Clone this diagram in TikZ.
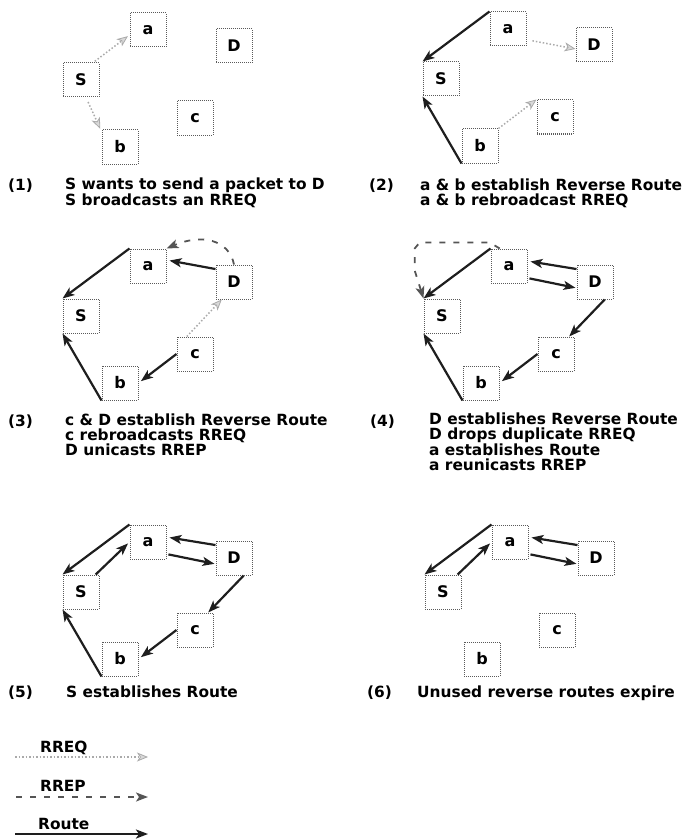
\documentclass[tikz,border=0pt]{standalone}
\usepackage{fontspec}
\setmainfont{DejaVu Sans}
\usetikzlibrary{arrows.meta, positioning}
\usepackage{xcolor}
\definecolor{routegray}{RGB}{30,30,30}
\definecolor{rrepgray}{RGB}{85,85,85}
\definecolor{rreqgray}{RGB}{170,170,170}
\definecolor{boxgray}{RGB}{90,90,90}

\begin{document}
\begin{tikzpicture}[
    x=1pt, y=-1pt,
    font=\fontsize{15.4}{14.6}\selectfont\bfseries,
    host/.style={rectangle, draw=boxgray, densely dotted, line width=1pt, fill=white, minimum width=36pt, minimum height=34pt, inner sep=0pt, font=\fontsize{16}{16}\selectfont\bfseries},
    route/.style={draw=routegray, line width=2.2pt, -{Stealth[length=12pt,width=9pt,inset=3pt]}},
    rreq/.style={draw=rreqgray, dotted, line width=1.5pt, -{Stealth[length=11pt,width=9pt,inset=3pt,fill=rreqgray!45,line width=0.8pt]}},
    rrep/.style={draw=rrepgray, dash pattern=on 6pt off 8pt, line width=1.8pt, -{Stealth[length=12pt,width=9pt,inset=3pt]}},
    capt/.style={anchor=base west, inner sep=0pt, align=left},
]
    \useasboundingbox (0,0) rectangle (694,840);

    % Hosts of the six snapshots
    \foreach \p/\dx/\dy in {1/0/0, 2/360/-1, 3/0/236, 4/361/236, 5/0/512, 6/362/512} {
        \node[host] (a\p) at (\dx+148,\dy+30) {a};
        \node[host] (D\p) at (\dx+234,\dy+46) {D};
        \node[host] (S\p) at (\dx+81,\dy+80) {S};
        \node[host] (c\p) at (\dx+195,\dy+118) {c};
        \node[host] (b\p) at (\dx+120,\dy+147) {b};
    }

    % (1)
    \draw[rreq, shorten <=2pt, shorten >=2pt] (S1.55) -- (a1.195);
    \draw[rreq, shorten <=5pt, shorten >=3pt] (S1.-74) -- (b1.140);

    % (2)
    \draw[route] (a2.north west) -- (S2.north west);
    \draw[route] (b2.south west) -- (S2.south west);
    \draw[rreq, shorten <=6pt] (a2.-30) -- (D2.-168);
    \draw[rreq] (b2.north east) -- (c2.north west);

    % (3)
    \draw[route] (a3.north west) -- (S3.north west);
    \draw[route] (b3.south west) -- (S3.south west);
    \draw[route, shorten >=3pt] (D3.145) -- (a3.18);
    \draw[route, shorten >=3pt] (c3.west) -- (b3.east);
    \draw[rreq] (c3.115) -- (D3.-125);
    \draw[rrep] (D3.north) .. controls +(-5,-25) and +(35,-15) .. (a3.north east);

    % (4)
    \draw[route] (a4.north west) -- (S4.north west);
    \draw[route] (b4.south west) -- (S4.south west);
    \draw[route, shorten >=3pt] (D4.145) -- (a4.15);
    \draw[route, shorten <=2pt, shorten >=1pt] (a4.-33) -- (D4.-162);
    \draw[route] (D4.-61) -- (c4.53);
    \draw[route, shorten >=3pt] (c4.west) -- (b4.east);
    \draw[rrep] (a4.118) -- ++(-10,-6) -- ++(-70,0) -- ++(-5,6) -- ++(0,22) -- (S4.north west);

    % (5)
    \draw[route] (a5.north west) -- (S5.north west);
    \draw[route, shorten >=2pt] (S5.50) -- (a5.west);
    \draw[route, shorten >=3pt] (D5.145) -- (a5.15);
    \draw[route, shorten <=2pt, shorten >=1pt] (a5.-33) -- (D5.-162);
    \draw[route] (D5.-61) -- (c5.53);
    \draw[route, shorten >=3pt] (c5.west) -- (b5.east);
    \draw[route] (b5.south west) -- (S5.south west);

    % (6)
    \draw[route] (a6.north west) -- (S6.north west);
    \draw[route, shorten >=2pt] (S6.50) -- (a6.west);
    \draw[route, shorten >=3pt] (D6.145) -- (a6.15);
    \draw[route, shorten <=2pt, shorten >=1pt] (a6.-33) -- (D6.-162);

    % Captions (base = last line)
    \node[capt] (n1) at (8,190) {(1)};
    \node[capt] (t1) at (65,205) {S wants to send a packet to D\\S broadcasts an RREQ};
    \node[capt] (n2) at (369,190) {(2)};
    \node[capt] (t2) at (420,205) {a \& b establish Reverse Route\\a \& b rebroadcast RREQ};
    \node[capt] (n3) at (8,426) {(3)};
    \node[capt] (t3) at (65,455) {c \& D establish Reverse Route\\c rebroadcasts RREQ\\D unicasts RREP};
    \node[capt] (n4) at (370,426) {(4)};
    \node[capt] (t4) at (429,470) {D establishes Reverse Route\\D drops duplicate RREQ\\a establishes Route\\a reunicasts RREP};
    \node[capt] (n5) at (8,697) {(5)};
    \node[capt] (t5) at (66,697) {S establishes Route};
    \node[capt] (n6) at (367,697) {(6)};
    \node[capt] (t6) at (417,697) {Unused reverse routes expire};

    % Legend
    \node[capt] (rreqlab) at (40,752) {RREQ};
    \coordinate (rreqL) at (15,757);
    \coordinate (rreqR) at (148,757);
    \draw[rreq] (rreqL) -- (rreqR);
    \node[capt] (rreplab) at (40,791) {RREP};
    \coordinate (rrepL) at (16,797);
    \coordinate (rrepR) at (148,797);
    \draw[rrep] (rrepL) -- (rrepR);
    \node[capt] (routelab) at (38,829) {Route};
    \coordinate (routeL) at (15,834);
    \coordinate (routeR) at (148,834);
    \draw[route] (routeL) -- (routeR);
\end{tikzpicture}
\end{document}
